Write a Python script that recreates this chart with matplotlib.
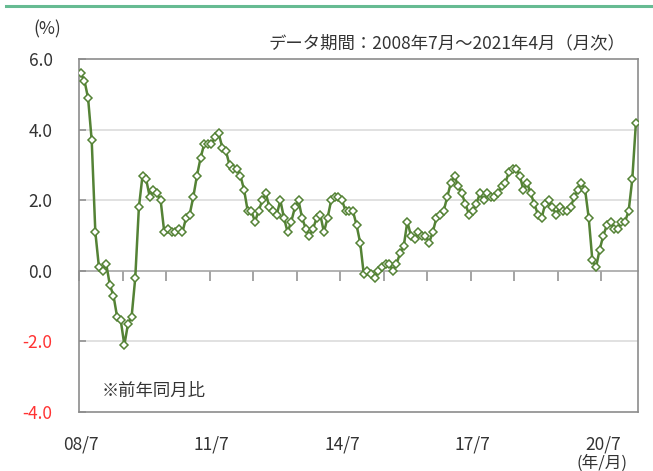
import numpy as np
import matplotlib
matplotlib.use("Agg")
import matplotlib.pyplot as plt
from matplotlib.lines import Line2D

plt.rcParams['font.family'] = ['Noto Sans CJK JP', 'DejaVu Sans']

# YoY change (%), monthly, 2008/7 - 2021/4
values_2008 = [5.6, 5.4, 4.9, 3.7, 1.1, 0.1]
values_2009 = [0.0, 0.2, -0.4, -0.7, -1.3, -1.4, -2.1, -1.5, -1.3, -0.2, 1.8, 2.7]
values_2010 = [2.6, 2.1, 2.3, 2.2, 2.0, 1.1, 1.2, 1.1, 1.1, 1.2, 1.1, 1.5]
values_2011 = [1.6, 2.1, 2.7, 3.2, 3.6, 3.6, 3.6, 3.8, 3.9, 3.5, 3.4, 3.0]
values_2012 = [2.9, 2.9, 2.7, 2.3, 1.7, 1.7, 1.4, 1.7, 2.0, 2.2, 1.8, 1.7]
values_2013 = [1.6, 2.0, 1.5, 1.1, 1.4, 1.8, 2.0, 1.5, 1.2, 1.0, 1.2, 1.5]
values_2014 = [1.6, 1.1, 1.5, 2.0, 2.1, 2.1, 2.0, 1.7, 1.7, 1.7, 1.3, 0.8]
values_2015 = [-0.1, 0.0, -0.1, -0.2, 0.0, 0.1, 0.2, 0.2, 0.0, 0.2, 0.5, 0.7]
values_2016 = [1.4, 1.0, 0.9, 1.1, 1.0, 1.0, 0.8, 1.1, 1.5, 1.6, 1.7, 2.1]
values_2017 = [2.5, 2.7, 2.4, 2.2, 1.9, 1.6, 1.7, 1.9, 2.2, 2.0, 2.2, 2.1]
values_2018 = [2.1, 2.2, 2.4, 2.5, 2.8, 2.9, 2.9, 2.7, 2.3, 2.5, 2.2, 1.9]
values_2019 = [1.6, 1.5, 1.9, 2.0, 1.8, 1.6, 1.8, 1.7, 1.7, 1.8, 2.1, 2.3]
values_2020 = [2.5, 2.3, 1.5, 0.3, 0.1, 0.6, 1.0, 1.3, 1.4, 1.2, 1.2, 1.4]
values_2021 = [1.4, 1.7, 2.6, 4.2]

values = (values_2008 + values_2009 + values_2010 + values_2011 + values_2012
          + values_2013 + values_2014 + values_2015 + values_2016 + values_2017
          + values_2018 + values_2019 + values_2020 + values_2021)

x_labels = ['08/7', '11/7', '14/7', '17/7', '20/7']
x_label_pos = [0, 36, 72, 108, 144]
y_ticks = [6.0, 4.0, 2.0, 0.0, -2.0, -4.0]

TEXT = '#333333'
GREEN = '#548235'
FRAME = '#8c8c8c'

fig = plt.figure(figsize=(6.53, 4.71), dpi=100)
ax = fig.add_axes([0.121, 0.1253, 0.8556, 0.7486])

x = np.arange(len(values))
ax.plot(x, values, color=GREEN, lw=1.8, marker='D', ms=4.3,
        mfc='white', mec=GREEN, mew=1.1, zorder=5)

ax.set_xlim(-0.5, len(values) - 0.5)
ax.set_ylim(-4.0, 6.0)

# grid
for g in [4.0, 2.0, -2.0]:
    ax.axhline(g, color='#d9d9d9', lw=1.1, zorder=1)

for s in ax.spines.values():
    s.set_color(FRAME)
    s.set_linewidth(1.2)

ax.set_yticks(y_ticks)
ax.set_yticklabels([f'{v:.1f}' for v in y_ticks])
ax.tick_params(axis='y', direction='in', length=5, color=FRAME, width=1.1,
               pad=19, labelsize=12.5)
for lbl, v in zip(ax.get_yticklabels(), y_ticks):
    lbl.set_color('#ff3333' if v < 0 else TEXT)

ax.set_xticks(x_label_pos)
ax.set_xticklabels(x_labels)
ax.tick_params(axis='x', length=0, pad=17, labelsize=12.5, labelcolor=TEXT)

# zero line with year ticks
sec = ax.secondary_xaxis(0.4)
sec.set_xticks(np.arange(-0.5, len(values), 12))
sec.set_xticklabels([])
sec.tick_params(axis='x', direction='out', length=7, color=FRAME, width=1.1)
sec.spines['bottom'].set_color('#a6a6a6')
sec.spines['bottom'].set_linewidth(1.2)

fig.text(47 / 653, 1 - 29 / 471, '(%)', ha='center', va='center',
         fontsize=12.5, color=TEXT)
fig.text(625 / 653, 1 - 43 / 471, 'データ期間：2008年7月～2021年4月（月次）',
         ha='right', va='center', fontsize=12.5, color=TEXT)
fig.text(102 / 653, 1 - 391 / 471, '※前年同月比', ha='left', va='center',
         fontsize=12.5, color=TEXT)
fig.text(602 / 653, 1 - 463 / 471, '(年/月)', ha='center', va='center',
         fontsize=12, color=TEXT)

fig.add_artist(Line2D([6 / 653, 1.0], [1 - 6 / 471, 1 - 6 / 471],
                      transform=fig.transFigure, color='#66bb92', lw=2.2))

fig.savefig('out.png', dpi=100)
